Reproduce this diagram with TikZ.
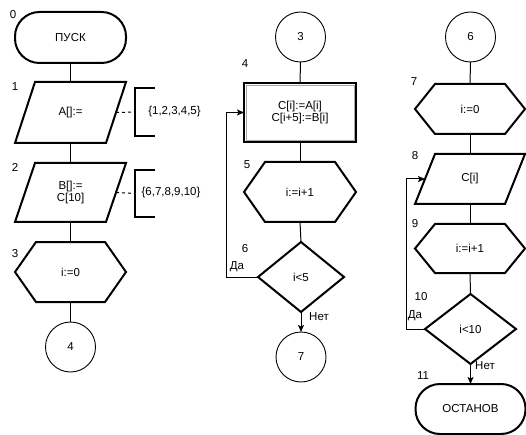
\documentclass[tikz,border=0pt]{standalone}
\usepackage{fontspec}
\setmainfont{Liberation Sans}
\usetikzlibrary{calc,arrows.meta}
\newcommand\drawpara[2][20]{\draw[shapeline] ($(#2.north west)+(#1,0)$) -- (#2.north east) -- ($(#2.south east)+(-#1,0)$) -- (#2.south west) -- cycle;}
\newcommand\drawhex[2][20]{\draw[shapeline] (#2.west) -- ($(#2.north west)+(#1,0)$) -- ($(#2.north east)+(-#1,0)$) -- (#2.east) -- ($(#2.south east)+(-#1,0)$) -- ($(#2.south west)+(#1,0)$) -- cycle;}
\newcommand\drawdiam[1]{\draw[shapeline] (#1.north) -- (#1.east) -- (#1.south) -- (#1.west) -- cycle;}
\newcommand\drawbracket[1]{\draw[shapeline] (#1.north east) -- (#1.north west) -- (#1.south west) -- (#1.south east);}
\begin{document}
\begin{tikzpicture}[x=1pt,y=-1pt,
  font=\fontsize{11.5}{12.5}\selectfont,
  blk/.style={inner sep=0pt, outer sep=0pt, align=center},
  shapeline/.style={line width=2pt, draw=black},
  term/.style={blk, draw, line width=2pt, rounded corners=24.5pt},
  conn/.style={blk, draw, circle, line width=0.9pt, minimum size=50},
  link/.style={line width=1pt},
  arr/.style={line width=1pt, -{Stealth[length=7pt,width=6pt,inset=1.5pt]}},
  lbl/.style={inner sep=0pt, font=\fontsize{11.5}{12.5}\selectfont}]
\useasboundingbox (0,0) rectangle (526,435);

% ---------- column 1 ----------
\node[term, minimum width=111, minimum height=51] (n0) at (70.5,37.5) {ПУСК};
\node[blk, minimum width=111, minimum height=61] (p1) at (70.5,112.5) {A[]:=};
\drawpara{p1}
\node[blk, minimum width=111, minimum height=59] (p2) at (70.5,192.5) {B[]:=\\C[10]};
\drawpara{p2}
\node[blk, minimum width=111, minimum height=60] (h3) at (70.5,272) {i:=0};
\drawhex[21]{h3}
\node[conn] (c4) at (70.5,347) {4};

\draw[link] (n0.south) -- (p1.north);
\draw[link] (p1.south) -- (p2.north);
\draw[link] (p2.south) -- (h3.north);
\draw[link] (h3.south) -- (c4.north);

\node[blk, minimum width=20, minimum height=48] (b1) at (145,112) {};
\drawbracket{b1}
\node[lbl] (t1) at (174.5,112) {\{1,2,3,4,5\}};
\draw[link, dash pattern=on 3pt off 3pt] ($(p1.east)+(-10,0)$) -- (b1.west);

\node[blk, minimum width=20, minimum height=47] (b2) at (145,193.5) {};
\drawbracket{b2}
\node[lbl] (t2) at (171,193) {\{6,7,8,9,10\}};
\draw[link, dash pattern=on 3pt off 3pt] ($(p2.east)+(-10,0)$) -- (b2.west);

\node[lbl] (l0) at (13,15) {0};
\node[lbl] (l1) at (15,87) {1};
\node[lbl] (l2) at (15,167) {2};
\node[lbl] (l3) at (15,254) {3};

% ---------- column 2 ----------
\node[conn] (c3) at (300.5,37) {3};
\node[blk, draw, line width=2pt, minimum width=112, minimum height=59] (r4) at (300,112.5) {C[i]:=A[i]\\C[i+5]:=B[i]};
\draw[gray!70, line width=0.8pt] ($(r4.north west)+(2,2)$) rectangle ($(r4.south east)+(-2,-2)$);
\node[blk, minimum width=112, minimum height=60] (h5) at (300,192) {i:=i+1};
\drawhex[21]{h5}
\node[blk, minimum width=86, minimum height=70] (d6) at (301,277) {i<5};
\drawdiam{d6}
\node[conn] (c7) at (301,357) {7};

\draw[link] (c3.south) -- (r4.north);
\draw[link] (r4.south) -- (h5.north);
\draw[link] (h5.south) -- (d6.north);
\draw[arr] (d6.south) -- (c7.north);
\draw[arr] (d6.west) -- ++(-32,0) |- (r4.west);

\node[lbl] (l4) at (245,64) {4};
\node[lbl] (l5) at (247,165) {5};
\node[lbl] (l6) at (245,249) {6};
\node[lbl] (da1) at (237,267) {Да};
\node[lbl] (net1) at (319,317) {Нет};

% ---------- column 3 ----------
\node[conn] (c6) at (470.5,37) {6};
\node[blk, minimum width=110, minimum height=50] (h7) at (470,109) {i:=0};
\drawhex{h7}
\node[blk, minimum width=110, minimum height=50] (p8) at (470,179) {C[i]};
\drawpara{p8}
\node[blk, minimum width=110, minimum height=49] (h9) at (470,248.5) {i:=i+1};
\drawhex{h9}
\node[blk, minimum width=91, minimum height=70] (d10) at (470.5,329) {i<10};
\drawdiam{d10}
\node[term, minimum width=110, minimum height=50] (e11) at (470.5,409) {ОСТАНОВ};

\draw[link] (c6.south) -- (h7.north);
\draw[link] (h7.south) -- (p8.north);
\draw[link] (p8.south) -- (h9.north);
\draw[link] (h9.south) -- (d10.north);
\draw[arr] (d10.south) -- (e11.north);
\draw[arr] (d10.west) -- ++(-19,0) |- ($(p8.west)+(10,0)$);

\node[lbl] (l7) at (414,82) {7};
\node[lbl] (l8) at (415,156) {8};
\node[lbl] (l9) at (415,224) {9};
\node[lbl] (l10) at (421,297) {10};
\node[lbl] (da2) at (415,316) {Да};
\node[lbl] (net2) at (485,366) {Нет};
\node[lbl] (l11) at (423,376) {11};
\end{tikzpicture}
\end{document}
